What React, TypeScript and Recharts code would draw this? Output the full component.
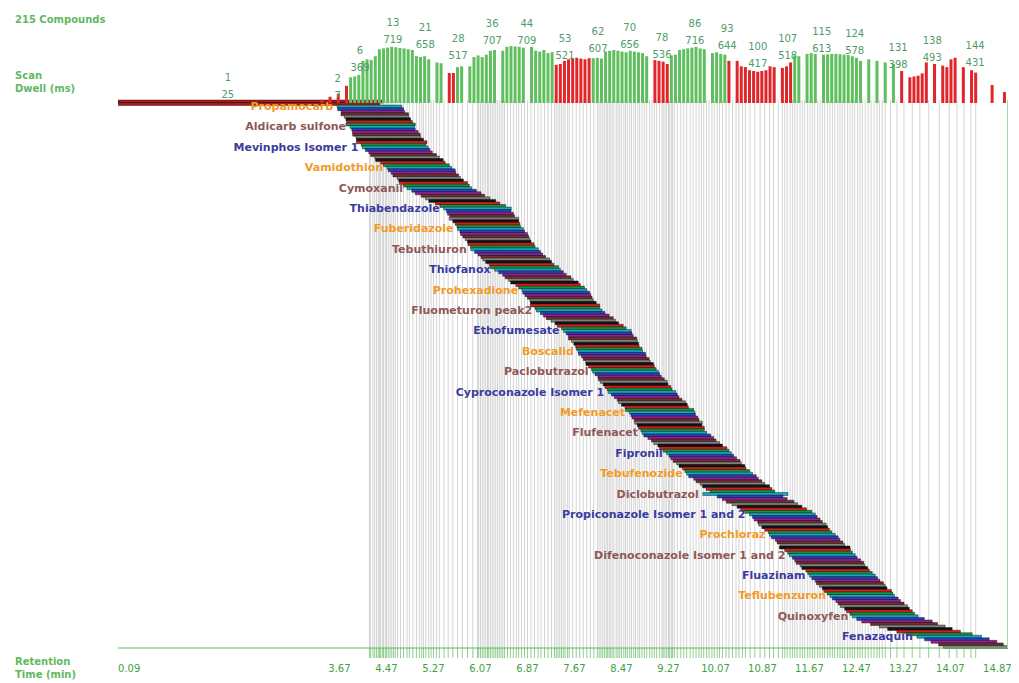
import React from 'react';
import {
  BarChart,
  ComposedChart,
  Bar,
  Scatter,
  XAxis,
  YAxis,
  Cell,
  LabelList,
  CartesianGrid,
} from 'recharts';

// retention time (centre of window) for each of the 215 compounds, minutes
const rtCenter = [
  2.16, 2.13,
  4.18, 4.20, 4.24, 4.27, 4.30, 4.33, 4.35, 4.37, 4.40,
  4.42, 4.45, 4.47, 4.50, 4.53, 4.56, 4.59, 4.62,
  4.66, 4.71, 4.76, 4.82, 4.86, 4.92, 4.98, 5.03,
  5.07, 5.10, 5.14, 5.19, 5.23, 5.27, 5.32, 5.37,
  5.45, 5.52, 5.60, 5.68, 5.76, 5.85, 5.94, 6.02,
  6.04, 6.07, 6.10, 6.13, 6.16, 6.19, 6.21, 6.24,
  6.27, 6.30, 6.33, 6.36, 6.39, 6.42, 6.45, 6.48,
  6.53, 6.58, 6.63, 6.68, 6.72, 6.77, 6.82, 6.87,
  6.93, 6.99, 7.05, 7.10, 7.16, 7.22, 7.28, 7.33,
  7.36, 7.39, 7.42, 7.45, 7.48, 7.51, 7.55, 7.58,
  7.64, 7.70, 7.76, 7.82, 7.88, 7.94, 8.00, 8.06,
  8.09, 8.12, 8.15, 8.18, 8.21, 8.23, 8.26, 8.28,
  8.31, 8.34, 8.38, 8.41, 8.44, 8.47, 8.51, 8.54,
  8.57, 8.61, 8.64, 8.68, 8.71, 8.75, 8.78, 8.82,
  8.86, 8.90, 8.95, 8.99, 9.03, 9.07, 9.12, 9.16,
  9.18, 9.21, 9.24, 9.27, 9.29, 9.32, 9.34, 9.37,
  9.42, 9.48, 9.53, 9.58, 9.64, 9.69, 9.74, 9.79,
  9.83, 9.87, 9.92, 9.96, 10.01, 10.05, 10.10, 10.14,
  10.19, 10.25, 10.30, 10.36, 10.42, 10.47, 10.53, 10.58,
  10.66, 10.74, 10.83, 10.91, 10.99, 11.06, 11.14, 11.21,
  11.25, 11.29, 11.34, 11.38, 11.42, 11.46, 11.51, 11.55,
  11.59, 11.64, 11.68, 11.72, 11.76, 11.81, 11.85, 11.89,
  11.93, 11.98, 12.02, 12.06, 12.10, 12.15, 12.19, 12.23,
  12.27, 12.32, 12.36, 12.40, 12.44, 12.49, 12.53, 12.57,
  12.62, 12.67, 12.72, 12.77, 12.82, 12.86, 12.91, 12.96,
  13.05, 13.16, 13.28, 13.42, 13.55, 13.70, 13.88, 14.05,
  14.18, 14.30, 14.42, 14.50,
];

// window width (delta RT) for each compound, minutes
const rtWidth = [
  4.52, 4.45,
  1.10, 1.12, 1.08, 1.15, 1.10, 1.10, 1.12, 1.18, 1.10,
  1.08, 1.12, 1.15, 1.10, 1.14, 1.20, 1.10, 1.12,
  1.10, 1.08, 1.12, 1.10, 1.15, 1.10, 1.12, 1.10,
  1.14, 1.10, 1.12, 1.08, 1.10, 1.16, 1.12, 1.10,
  1.10, 1.12, 1.08, 1.10, 1.14, 1.10, 1.12, 1.15,
  1.10, 1.12, 1.10, 1.18, 1.12, 1.10, 1.08, 1.12,
  1.10, 1.14, 1.12, 1.10, 1.08, 1.12, 1.10, 1.15,
  1.12, 1.10, 1.10, 1.14, 1.12, 1.10, 1.16, 1.12,
  1.10, 1.08, 1.12, 1.10, 1.15, 1.10, 1.12, 1.10,
  1.14, 1.12, 1.10, 1.08, 1.12, 1.18, 1.10, 1.12,
  1.10, 1.12, 1.14, 1.10, 1.08, 1.12, 1.10, 1.15,
  1.12, 1.10, 1.16, 1.12, 1.10, 1.08, 1.12, 1.10,
  1.14, 1.10, 1.12, 1.10, 1.15, 1.12, 1.10, 1.12,
  1.10, 1.08, 1.12, 1.14, 1.10, 1.12, 1.10, 1.15,
  1.12, 1.10, 1.10, 1.14, 1.12, 1.08, 1.16, 1.12,
  1.10, 1.12, 1.10, 1.15, 1.10, 1.12, 1.08, 1.10,
  1.14, 1.12, 1.10, 1.12, 1.10, 1.15, 1.12, 1.10,
  1.10, 1.12, 1.14, 1.10, 1.12, 1.08, 1.10, 1.12,
  1.15, 1.10, 1.12, 1.10, 1.14, 1.12, 1.10, 1.45,
  1.12, 1.10, 1.15, 1.12, 1.10, 1.12, 1.14, 1.12,
  1.10, 1.12, 1.10, 1.15, 1.12, 1.10, 1.08, 1.12,
  1.14, 1.10, 1.12, 1.10, 1.20, 1.12, 1.10, 1.12,
  1.10, 1.12, 1.15, 1.10, 1.12, 1.08, 1.10, 1.12,
  1.12, 1.10, 1.14, 1.12, 1.10, 1.15, 1.12, 1.10,
  1.12, 1.10, 1.12, 1.14, 1.10, 1.12, 1.10, 1.12,
  1.15, 1.20, 1.14, 1.12, 1.10, 1.08, 1.12, 1.10,
  1.10, 1.12, 1.10, 1.10,
];

// every 8th compound is named on the plot
const labelNames = [
  'Propamocarb', 'Aldicarb sulfone', 'Mevinphos Isomer 1', 'Vamidothion',
  'Cymoxanil', 'Thiabendazole', 'Fuberidazole', 'Tebuthiuron', 'Thiofanox',
  'Prohexadione', 'Fluometuron peak2', 'Ethofumesate', 'Boscalid',
  'Paclobutrazol', 'Cyproconazole Isomer 1', 'Mefenacet', 'Flufenacet',
  'Fipronil', 'Tebufenozide', 'Diclobutrazol', 'Propiconazole Isomer 1 and 2',
  'Prochloraz', 'Difenoconazole Isomer 1 and 2', 'Fluazinam', 'Teflubenzuron',
  'Quinoxyfen', 'Fenazaquin',
];

const timeTicks = [
  0.09, 3.67, 4.47, 5.27, 6.07, 6.87, 7.67, 8.47, 9.27, 10.07, 10.87, 11.67,
  12.47, 13.27, 14.07, 14.87,
];

// dwell per cycle bin (top histogram), r = red, g = green
const histDwell = [
  40, 0, 80, 0, 120, 0, 220, 330, 340, 360,
  540, 560, 550, 600, 690, 700, 710, 720, 715, 705,
  700, 690, 680, 600, 590, 600, 560, 0, 520, 510,
  0, 385, 385, 460, 470, 0, 470, 590, 610, 590,
  620, 670, 680, 0, 670, 720, 730, 725, 720, 710,
  0, 720, 670, 660, 680, 640, 650, 490, 500, 540,
  560, 570, 580, 570, 560, 575, 575, 580, 570, 660,
  670, 680, 670, 660, 650, 670, 660, 650, 640, 600,
  0, 550, 540, 530, 500, 610, 620, 680, 690, 700,
  710, 720, 700, 690, 0, 640, 650, 630, 620, 540,
  0, 540, 470, 460, 420, 410, 400, 410, 420, 470,
  460, 0, 450, 470, 520, 610, 600, 0, 630, 640,
  630, 0, 620, 625, 630, 630, 625, 620, 615, 600,
  580, 540, 0, 560, 0, 540, 0, 520, 0, 500,
  0, 410, 0, 330, 340, 350, 380, 520, 0, 500,
  0, 480, 460, 560, 580, 0, 460, 0, 420, 390,
  0, 0, 0, 230, 0, 0, 140,
];
const histBand =
  'rrrrrrrggg' + 'gggggggggg' + 'gggggggggg' + 'grrggggggg' + 'gggggggggg' +
  'gggggggrrr' + 'rrrrrrgggg' + 'gggggggggg' + 'grrrrggggg' + 'gggggggggr' +
  'rrrrrrrrrr' + 'rrrrrggggg' + 'gggggggggg' + 'gggggggggg' + 'grrrrrrrrr' +
  'rrrrrrrrrr' + 'rrrrrrr';
const histStart = 3.37;
const histStep = 0.07;

// scan number / dwell annotations over the histogram
const markTimes = [1.77, 3.64, 4.02, 4.58, 5.13, 5.69, 6.27, 6.86, 7.51, 8.07, 8.61, 9.16, 9.72, 10.27, 10.79, 11.3, 11.88, 12.44, 13.18, 13.76, 14.49];
const markScans = [1, 2, 6, 13, 21, 28, 36, 44, 53, 62, 70, 78, 86, 93, 100, 107, 115, 124, 131, 138, 144];
const markDwells = [25, 7, 369, 719, 658, 517, 707, 709, 521, 607, 656, 536, 716, 644, 417, 518, 613, 578, 398, 493, 431];

const rowColors = ['#d41e1e', '#1c8f3e', '#16a8bb', '#2c40b8', '#8e2394', '#70302c', '#808080', '#141414'];
const nameColors = ['#f29b26', '#8e5858', '#3b3b9e'];
const GREEN = '#62b862';
const TIME_DOMAIN: [number, number] = [-0.1, 15.05];
const FONT = '"DejaVu Sans", Verdana, sans-serif';

const rows = rtCenter.map((c, i) => ({
  id: i,
  range: [c - rtWidth[i] / 2, c + rtWidth[i] / 2],
}));

// grid lines only for the normal (narrow) windows
const gridTimes = rtCenter.filter((_, i) => rtWidth[i] < 2);

const bins = histDwell.map((d, i) => ({
  t: histStart + i * histStep,
  dwell: d,
  red: histBand[i] === 'r',
}));

const marks = markTimes.map((t, i) => ({ t, dwell: markDwells[i], scan: markScans[i] }));

const renderName = (props: any) => {
  const { index } = props;
  if (index % 8 !== 2) return null;
  const vb = props.viewBox || {};
  const x = Number(vb.x ?? props.x);
  const y = Number(vb.y ?? props.y);
  const h = Number(vb.height ?? props.height);
  const k = (index - 2) / 8;
  return (
    <text
      x={x - 4}
      y={y + h / 2}
      textAnchor="end"
      dominantBaseline="central"
      fontFamily={FONT}
      fontSize={11}
      fontWeight="bold"
      fill={nameColors[k % 3]}
    >
      {labelNames[k]}
    </text>
  );
};

// histogram column: fixed 3px wide, centred on its time
const HistBar = (props: any) => {
  const { x, y, width, height, fill } = props;
  if (!height || height <= 0) return <g />;
  const cx = x + width / 2;
  return <rect x={cx - 1.5} y={y} width={3} height={height} fill={fill} />;
};

const MarkShape = (props: any) => {
  const { cx, cy, payload } = props;
  return (
    <g fontFamily={FONT} fontSize={10} fill="#4f9c6a" textAnchor="middle">
      <text x={cx} y={cy - 24} dominantBaseline="central">{payload.scan}</text>
      <text x={cx} y={cy - 7} dominantBaseline="central">{payload.dwell}</text>
    </g>
  );
};

const NoTick = () => <g />;

const sideText: React.CSSProperties = {
  position: 'absolute',
  left: 15,
  fontFamily: FONT,
  fontSize: 10,
  fontWeight: 'bold',
  color: GREEN,
  lineHeight: '12px',
  whiteSpace: 'nowrap',
};

export default function App() {
  return (
    <div
      style={{
        position: 'fixed',
        left: 0,
        top: 0,
        width: 1019,
        height: 683,
        background: '#fff',
        overflow: 'hidden',
      }}
    >
      <div style={{ position: 'absolute', left: 0, top: 0 }}>
        <BarChart
          width={1019}
          height={683}
          data={rows}
          layout="vertical"
          margin={{ top: 100, right: 11, bottom: 0, left: 118 }}
          barCategoryGap={0}
        >
          <CartesianGrid
            xAxisId="time"
            horizontal={false}
            verticalValues={gridTimes}
            stroke="#d4d4d4"
          />
          <XAxis
            xAxisId="grid"
            type="number"
            domain={TIME_DOMAIN}
            allowDataOverflow
            ticks={gridTimes}
            interval={0}
            tick={NoTick}
            tickSize={10}
            tickLine={{ stroke: GREEN, strokeOpacity: 0.7 }}
            axisLine={{ stroke: GREEN }}
            height={12}
          />
          <XAxis
            xAxisId="time"
            type="number"
            domain={TIME_DOMAIN}
            allowDataOverflow
            ticks={timeTicks}
            interval={0}
            tickLine={false}
            axisLine={false}
            tickSize={0}
            tickMargin={5}
            tick={{ fill: '#3f9f3f', fontSize: 10, fontFamily: FONT }}
            height={23}
          />
          <YAxis
            type="category"
            dataKey="id"
            width={0}
            tick={false}
            tickLine={false}
            axisLine={{ stroke: GREEN }}
          />
          <Bar
            xAxisId="time"
            dataKey="range"
            isAnimationActive={false}
            strokeWidth={0.4}
          >
            {rows.map((r, i) => (
              <Cell
                key={r.id}
                fill={rtWidth[i] > 2 ? '#a81c1c' : rowColors[i % 8]}
                stroke="#000"
              />
            ))}
            <LabelList dataKey="id" content={renderName} />
          </Bar>
        </BarChart>
      </div>

      <div
        style={{
          position: 'absolute',
          left: 1007,
          top: 100,
          width: 0,
          height: 548,
          borderLeft: '1px solid #a8d8a8',
        }}
      />

      <div style={{ position: 'absolute', left: 0, top: 0, pointerEvents: 'none' }}>
        <ComposedChart
          width={1019}
          height={103}
          data={bins}
          margin={{ top: 0, right: 11, bottom: 0, left: 118 }}
        >
          <XAxis type="number" dataKey="t" domain={TIME_DOMAIN} allowDataOverflow hide />
          <YAxis type="number" dataKey="dwell" domain={[0, 1321]} allowDataOverflow hide />
          <Bar dataKey="dwell" barSize={3} shape={<HistBar />} isAnimationActive={false}>
            {bins.map((b, i) => (
              <Cell key={i} fill={b.red ? '#e0262b' : '#5fbf5f'} />
            ))}
          </Bar>
          <Scatter data={marks} dataKey="dwell" shape={<MarkShape />} isAnimationActive={false} />
        </ComposedChart>
      </div>

      <div style={{ ...sideText, top: 14 }}>215 Compounds</div>
      <div style={{ ...sideText, top: 70 }}>Scan</div>
      <div style={{ ...sideText, top: 83 }}>Dwell (ms)</div>
      <div style={{ ...sideText, top: 656 }}>Retention</div>
      <div style={{ ...sideText, top: 669 }}>Time (min)</div>
    </div>
  );
}
